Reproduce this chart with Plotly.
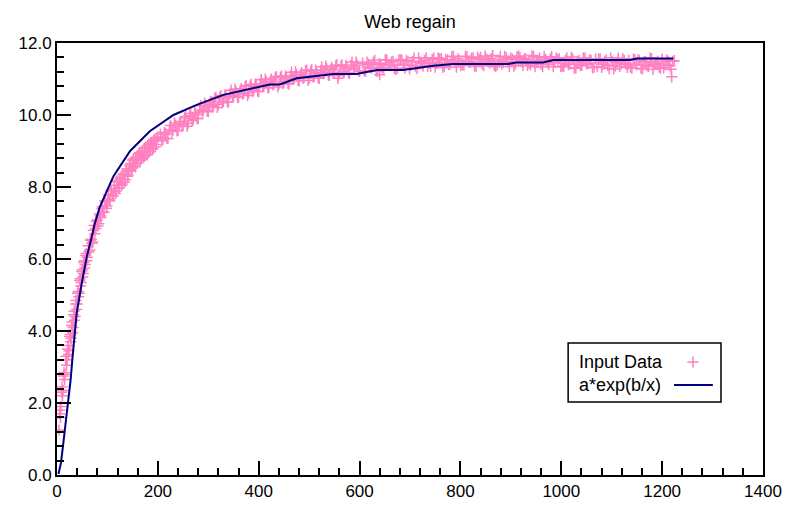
import plotly.graph_objects as go

# ---------------- data ----------------
title_text = "Web regain"
legend_labels = ["Input Data", "a*exp(b/x)"]

x_tick_vals = [0, 200, 400, 600, 800, 1000, 1200, 1400]
y_tick_vals = [0, 2, 4, 6, 8, 10, 12]
y_tick_text = ["0.0", "2.0", "4.0", "6.0", "8.0", "10.0", "12.0"]

# Input data, steep part (two interleaved rows)
seg_a_x = [4, 6, 8, 10, 12, 14, 16, 18, 20, 22, 24, 26, 28, 30, 32, 34, 36, 38, 40, 42,
           44, 46, 48, 50, 52, 54, 56, 58, 60]
seg_a_y = [1.25, 1.8, 1.9, 2.45, 2.35, 2.85, 2.8, 3.3, 3.2, 3.6, 3.45, 3.9, 3.8, 4.25, 4.1,
           4.55, 4.4, 4.85, 4.75, 5.1, 5.05, 5.45, 5.35, 5.7, 5.6, 5.95, 5.85, 6.15, 6.05]
seg_a2_x = [5, 7, 9, 11, 13, 15, 17, 19, 21, 23, 25, 27, 29, 31, 33, 35, 37, 39, 41, 43,
            45, 47, 49, 51, 53, 55, 57, 59]
seg_a2_y = [1.7, 1.6, 2.3, 2.2, 2.75, 2.65, 3.2, 3.05, 3.5, 3.35, 3.85, 3.7, 4.15, 3.95,
            4.45, 4.3, 4.75, 4.6, 5.05, 4.95, 5.4, 5.25, 5.65, 5.5, 5.9, 5.75, 6.1, 5.95]

# Input data, knee
seg_b_x = [62, 65, 68, 71, 74, 77, 80, 83, 86, 89, 92, 95, 98, 101, 104, 107, 110, 113,
           116, 119, 122, 125, 128, 131, 134, 137, 140, 143, 146, 149, 152, 155, 158, 161,
           164, 167, 170, 173, 176, 179, 182, 185, 188, 191, 194, 197, 200]
seg_b_y = [6.37, 6.25, 6.55, 6.47, 6.93, 6.85, 7.08, 6.98, 7.2, 7.4, 7.3, 7.61, 7.41, 7.65,
           7.67, 7.9, 7.75, 7.95, 7.82, 8.17, 7.97, 8.22, 8.05, 8.36, 8.13, 8.43, 8.3, 8.48,
           8.65, 8.52, 8.78, 8.56, 8.78, 8.76, 8.96, 8.78, 9.0, 8.84, 9.1, 8.89, 9.19, 9.06,
           9.23, 9.07, 9.32, 9.18, 9.39]
seg_b2_x = [63, 66, 69, 72, 75, 78, 81, 84, 87, 90, 93, 96, 99, 102, 105, 108, 111, 114,
            117, 120, 123, 126, 129, 132, 135, 138, 141, 144, 147, 150, 153, 156, 159, 162,
            165, 168, 171, 174, 177, 180, 183, 186, 189, 192, 195, 198]
seg_b2_y = [6.2, 6.52, 6.44, 6.8, 6.7, 7.05, 6.92, 7.25, 7.15, 7.45, 7.3, 7.58, 7.48, 7.78,
            7.62, 7.9, 7.76, 8.05, 7.88, 8.14, 7.98, 8.27, 8.08, 8.34, 8.2, 8.5, 8.33, 8.6,
            8.45, 8.74, 8.58, 8.82, 8.66, 8.93, 8.74, 8.99, 8.82, 9.08, 8.9, 9.15, 8.98, 9.24,
            9.06, 9.3, 9.12, 9.36]

# Input data, bend towards plateau (two interleaved rows)
seg_c_x = [205, 210, 215, 220, 225, 230, 235, 240, 245, 250, 255, 260, 265, 270, 275, 280,
           285, 290, 295, 300, 305, 310, 315, 320, 325, 330, 335, 340, 345, 350, 355, 360,
           365, 370, 375, 380, 385, 390, 395, 400, 405, 410, 415, 420, 425, 430, 435, 440,
           445, 450, 455, 460, 465, 470, 475, 480, 485, 490, 495, 500, 505, 510, 515, 520,
           525, 530, 535, 540, 545, 550, 555, 560, 565, 570, 575, 580, 585, 590, 595, 600]
seg_c_y = [9.47, 9.32, 9.48, 9.35, 9.71, 9.58, 9.72, 9.57, 9.82, 9.72, 9.96, 9.77, 10.04,
           9.88, 10.03, 9.90, 10.26, 10.13, 10.27, 10.12, 10.38, 10.27, 10.49, 10.29, 10.54,
           10.37, 10.51, 10.36, 10.69, 10.54, 10.65, 10.49, 10.73, 10.61, 10.82, 10.61, 10.85,
           10.68, 10.81, 10.65, 10.98, 10.82, 10.93, 10.76, 11.00, 10.86, 11.07, 10.85, 11.08,
           10.90, 11.03, 10.86, 11.19, 11.02, 11.13, 10.95, 11.18, 11.05, 11.25, 11.02, 11.26,
           11.07, 11.19, 11.02, 11.34, 11.18, 11.28, 11.10, 11.33, 11.19, 11.39, 11.16, 11.39,
           11.20, 11.32, 11.15, 11.47, 11.30, 11.39, 11.21]
seg_c2_x = [208, 213, 218, 223, 228, 233, 238, 243, 248, 253, 258, 263, 268, 273, 278, 283,
            288, 293, 298, 303, 308, 313, 318, 323, 328, 333, 338, 343, 348, 353, 358, 363,
            368, 373, 378, 383, 388, 393, 398, 403, 408, 413, 418, 423, 428, 433, 438, 443,
            448, 453, 458, 463, 468, 473, 478, 483, 488, 493, 498, 503, 508, 513, 518, 523,
            528, 533, 538, 543, 548, 553, 558, 563, 568, 573, 578, 583, 588, 593, 598]
seg_c2_y = [9.28, 9.52, 9.35, 9.59, 9.54, 9.78, 9.56, 9.75, 9.68, 9.92, 9.69, 9.98, 9.84,
            10.07, 9.90, 10.14, 10.09, 10.33, 10.11, 10.30, 10.23, 10.46, 10.21, 10.49, 10.34,
            10.56, 10.37, 10.58, 10.51, 10.72, 10.49, 10.66, 10.58, 10.79, 10.54, 10.80, 10.65,
            10.86, 10.66, 10.87, 10.79, 11.00, 10.76, 10.93, 10.84, 11.04, 10.78, 11.04, 10.87,
            11.08, 10.88, 11.08, 11.00, 11.20, 10.96, 11.12, 11.02, 11.23, 10.96, 11.21, 11.05,
            11.25, 11.04, 11.24, 11.15, 11.36, 11.11, 11.27, 11.17, 11.37, 11.10, 11.35, 11.18,
            11.38, 11.17, 11.37, 11.28, 11.47, 11.22]

# Input data, plateau (two interleaved rows)
seg_d_x = [606, 612, 618, 624, 630, 636, 642, 648, 654, 660, 666, 672, 678, 684, 690, 696,
           702, 708, 714, 720, 726, 732, 738, 744, 750, 756, 762, 768, 774, 780, 786, 792,
           798, 804, 810, 816, 822, 828, 834, 840, 846, 852, 858, 864, 870, 876, 882, 888,
           894, 900, 906, 912, 918, 924, 930, 936, 942, 948, 954, 960, 966, 972, 978, 984,
           990, 996, 1002, 1008, 1014, 1020, 1026, 1032, 1038, 1044, 1050, 1056, 1062, 1068,
           1074, 1080, 1086, 1092, 1098, 1104, 1110, 1116, 1122, 1128, 1134, 1140, 1146,
           1152, 1158, 1164, 1170, 1176, 1182, 1188, 1194, 1200, 1206, 1212, 1218, 1224]
seg_d_y = [11.44, 11.22, 11.41, 11.30, 11.52, 11.22, 11.40, 11.30, 11.53, 11.37, 11.49,
           11.27, 11.53, 11.52, 11.30, 11.48, 11.38, 11.59, 11.29, 11.47, 11.36, 11.59, 11.43,
           11.54, 11.33, 11.58, 11.57, 11.35, 11.53, 11.42, 11.63, 11.33, 11.51, 11.40, 11.63,
           11.47, 11.58, 11.36, 11.61, 11.60, 11.37, 11.55, 11.44, 11.65, 11.34, 11.52, 11.41,
           11.63, 11.47, 11.58, 11.36, 11.61, 11.60, 11.37, 11.55, 11.44, 11.65, 11.34, 11.52,
           11.41, 11.62, 11.46, 11.56, 11.34, 11.59, 11.57, 11.34, 11.52, 11.40, 11.61, 11.30,
           11.48, 11.37, 11.59, 11.42, 11.53, 11.31, 11.56, 11.55, 11.32, 11.49, 11.38, 11.59,
           11.28, 11.46, 11.35, 11.57, 11.41, 11.52, 11.30, 11.54, 11.53, 11.30, 11.48, 11.37,
           11.58, 11.27, 11.44, 11.33, 11.55, 11.39, 11.49, 11.27, 11.51]
seg_d2_x = [609, 615, 621, 627, 633, 639, 645, 651, 657, 663, 669, 675, 681, 687, 693, 699,
            705, 711, 717, 723, 729, 735, 741, 747, 753, 759, 765, 771, 777, 783, 789, 795,
            801, 807, 813, 819, 825, 831, 837, 843, 849, 855, 861, 867, 873, 879, 885, 891,
            897, 903, 909, 915, 921, 927, 933, 939, 945, 951, 957, 963, 969, 975, 981, 987,
            993, 999, 1005, 1011, 1017, 1023, 1029, 1035, 1041, 1047, 1053, 1059, 1065, 1071,
            1077, 1083, 1089, 1095, 1101, 1107, 1113, 1119, 1125, 1131, 1137, 1143, 1149,
            1155, 1161, 1167, 1173, 1179, 1185, 1191, 1197, 1203, 1209, 1215, 1221]
seg_d2_y = [11.23, 11.47, 11.32, 11.46, 11.22, 11.43, 11.31, 11.53, 11.38, 11.47, 11.29,
            11.30, 11.54, 11.38, 11.52, 11.28, 11.49, 11.36, 11.59, 11.43, 11.52, 11.34, 11.35,
            11.58, 11.43, 11.56, 11.32, 11.53, 11.40, 11.62, 11.46, 11.56, 11.37, 11.38, 11.62,
            11.46, 11.59, 11.35, 11.55, 11.42, 11.64, 11.48, 11.57, 11.38, 11.39, 11.62, 11.46,
            11.59, 11.35, 11.55, 11.42, 11.64, 11.48, 11.57, 11.38, 11.39, 11.62, 11.46, 11.59,
            11.34, 11.54, 11.40, 11.62, 11.46, 11.54, 11.35, 11.36, 11.59, 11.42, 11.55, 11.31,
            11.51, 11.38, 11.59, 11.43, 11.52, 11.33, 11.34, 11.57, 11.40, 11.53, 11.29, 11.49,
            11.36, 11.58, 11.42, 11.51, 11.32, 11.33, 11.55, 11.39, 11.52, 11.28, 11.48, 11.35,
            11.57, 11.40, 11.49, 11.30, 11.31, 11.53, 11.37, 11.49]

# a few stray points below the band
outlier_x = [300, 557, 640, 1219]
outlier_y = [10.09, 11.02, 11.12, 11.06]

# fitted curve a*exp(b/x)
fit_x = [3, 8, 12.5, 16, 19, 22.4, 27, 31, 36, 39, 49, 59, 69, 75, 85, 100, 112, 145, 184,
         231, 277, 330, 370, 422, 442, 475, 548, 594, 634, 686, 746, 786, 895, 910, 964,
         984, 1136, 1150, 1222]
fit_y = [0.03, 0.35, 0.88, 1.3, 1.6, 2.04, 2.64, 3.3, 4.03, 4.49, 5.32, 6.06, 6.62, 6.99,
         7.45, 7.95, 8.3, 9.0, 9.55, 10.0, 10.28, 10.56, 10.69, 10.85, 10.85, 11.02, 11.14,
         11.14, 11.25, 11.25, 11.37, 11.42, 11.42, 11.46, 11.46, 11.53, 11.53, 11.57, 11.57]

# ---------------- styling ----------------
PINK = "#ff80c0"
NAVY = "#000080"
FONT = "Arial, Liberation Sans, sans-serif"

data_x = (seg_a_x + seg_a2_x + seg_b_x + seg_b2_x + seg_c_x + seg_c2_x + seg_d_x + seg_d2_x
          + outlier_x)
data_y = (seg_a_y + seg_a2_y + seg_b_y + seg_b2_y + seg_c_y + seg_c2_y + seg_d_y + seg_d2_y
          + outlier_y)

fig = go.Figure()
fig.add_trace(go.Scatter(
    x=data_x, y=data_y, mode="markers", name=legend_labels[0], showlegend=False,
    marker=dict(symbol="cross-thin", size=8, color=PINK, line=dict(width=1.5, color=PINK)),
))
fig.add_trace(go.Scatter(
    x=fit_x, y=fit_y, mode="lines", name=legend_labels[1], showlegend=False,
    line=dict(color=NAVY, width=2),
))

# legend samples drawn in a 0..1 overlay coordinate system
fig.add_trace(go.Scatter(
    x=[0.9008], y=[0.2616], xaxis="x2", yaxis="y2", mode="markers", showlegend=False,
    hoverinfo="skip",
    marker=dict(symbol="cross-thin", size=8, color=PINK, line=dict(width=1.5, color=PINK)),
))
fig.add_trace(go.Scatter(
    x=[0.874, 0.929], y=[0.2083, 0.2083], xaxis="x2", yaxis="y2", mode="lines",
    showlegend=False, hoverinfo="skip", line=dict(color=NAVY, width=2),
))

axis_common = dict(
    showline=True, linecolor="black", linewidth=2, mirror=True,
    ticks="inside", ticklen=14, tickwidth=1.5, tickcolor="black",
    showgrid=False, zeroline=False, automargin=False,
    tickfont=dict(family=FONT, size=17, color="black"),
)

fig.update_layout(
    width=787, height=507,
    margin=dict(l=57, r=24, t=43, b=32),
    paper_bgcolor="white", plot_bgcolor="white",
    showlegend=False,
    title=dict(text=title_text, x=0.5, xref="paper", xanchor="center",
               y=1 - 22 / 507, yref="container", yanchor="middle",
               font=dict(family=FONT, size=18, color="black")),
    xaxis=dict(range=[0, 1400], tickvals=x_tick_vals, ticktext=[str(v) for v in x_tick_vals],
               minor=dict(dtick=40, ticks="inside", ticklen=7, tickwidth=1.5, tickcolor="black"),
               **axis_common),
    yaxis=dict(range=[0, 12], tickvals=y_tick_vals, ticktext=y_tick_text,
               minor=dict(dtick=0.4, ticks="inside", ticklen=7, tickwidth=1.5, tickcolor="black"),
               **axis_common),
    xaxis2=dict(range=[0, 1], overlaying="x", visible=False, fixedrange=True),
    yaxis2=dict(range=[0, 1], overlaying="y", visible=False, fixedrange=True),
    shapes=[dict(type="rect", xref="paper", yref="paper", x0=0.724, x1=0.9405,
                 y0=0.169, y1=0.3056, line=dict(color="black", width=1.5),
                 fillcolor="rgba(0,0,0,0)", layer="above")],
    annotations=[
        dict(text=legend_labels[0], xref="paper", yref="paper", x=0.7365, y=0.2616,
             xanchor="left", yanchor="middle", showarrow=False,
             font=dict(family=FONT, size=18, color="black")),
        dict(text=legend_labels[1], xref="paper", yref="paper", x=0.7365, y=0.2083,
             xanchor="left", yanchor="middle", showarrow=False,
             font=dict(family=FONT, size=18, color="black")),
    ],
)

fig.write_html("out.html")
